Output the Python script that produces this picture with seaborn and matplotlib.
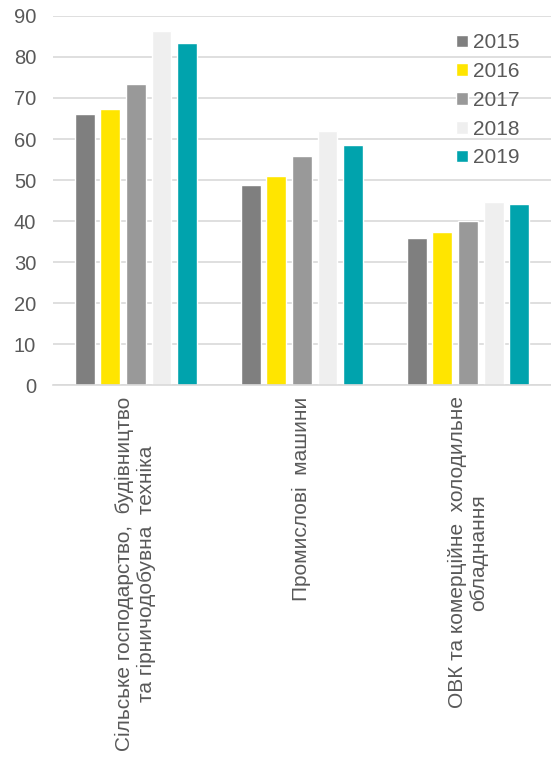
import matplotlib
matplotlib.use("Agg")
import matplotlib.pyplot as plt
import seaborn as sns
import pandas as pd

categories = [
    "Сільське господарство,  будівництво\nта гірничодобувна  техніка",
    "Промислові  машини",
    "ОВК та комерційне  холодильне\nобладнання",
]
years = ["2015", "2016", "2017", "2018", "2019"]
values_2015 = [66.0, 48.8, 35.9]
values_2016 = [67.2, 51.1, 37.4]
values_2017 = [73.4, 55.8, 40.1]
values_2018 = [86.3, 61.9, 44.7]
values_2019 = [83.4, 58.6, 44.1]
colors = ["#7F7F7F", "#FFE500", "#999999", "#EFEFEF", "#00A3AD"]
yticks = [0, 10, 20, 30, 40, 50, 60, 70, 80, 90]

series = [values_2015, values_2016, values_2017, values_2018, values_2019]
rows = []
for y, vals in zip(years, series):
    for c, v in zip(categories, vals):
        rows.append({"cat": c, "year": y, "val": v})
df = pd.DataFrame(rows)

sns.set_theme(style="white")
plt.rcParams["font.family"] = ["Liberation Sans", "DejaVu Sans"]

fig = plt.figure(figsize=(5.51, 7.57), dpi=100)
ax = fig.add_axes([0.096, 0.491, 0.904, 0.488])

sns.barplot(data=df, x="cat", y="val", hue="year", hue_order=years,
            order=categories, palette=colors, width=0.77, gap=0.22,
            saturation=1, ax=ax, legend=True)

ax.set_ylim(0, 90)
ax.set_xlim(-0.5, 2.5)
ax.set_yticks(yticks)
ax.set_yticklabels([str(t) for t in yticks], fontsize=14.5, color="#595959")
ax.yaxis.grid(True, color="#D9D9D9", linewidth=1.2)
ax.set_axisbelow(True)
ax.set_xlabel("")
ax.set_ylabel("")
ax.tick_params(axis="y", length=0, pad=12)
ax.tick_params(axis="x", length=0, pad=8)
for s in ["left", "right", "top"]:
    ax.spines[s].set_visible(False)
ax.spines["bottom"].set_color("#D9D9D9")
ax.spines["bottom"].set_linewidth(1.2)
ax.set_xticks(range(len(categories)))
ax.set_xticklabels(categories, rotation=90, fontsize=15, color="#595959",
                   ha="center", va="top", multialignment="center")

handles, labels = ax.get_legend_handles_labels()
leg = ax.legend(handles, labels, loc="upper left", bbox_to_anchor=(0.81, 0.953),
                frameon=False, fontsize=15, handlelength=0.55, handleheight=0.55,
                handletextpad=0.25, labelspacing=0.47, borderpad=0, borderaxespad=0,
                labelcolor="#595959")

fig.savefig("out.png", dpi=100)
